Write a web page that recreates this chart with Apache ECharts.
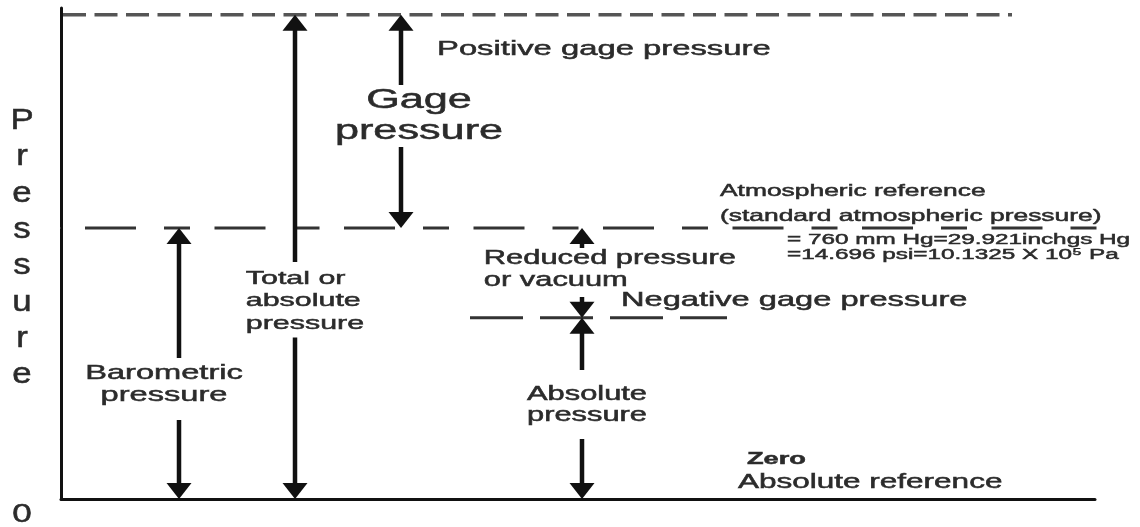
<!DOCTYPE html>
<html>
<head>
<meta charset="utf-8">
<title>Pressure</title>
<script src="https://cdn.jsdelivr.net/npm/echarts@6/dist/echarts.min.js"></script>
<style>
  html, body { margin: 0; padding: 0; background: #fff; }
  #chart { width: 1140px; height: 527px; }
</style>
</head>
<body>
<div id="chart"></div>
<script>
// pressure levels on the y scale (0 = absolute zero)
const levelNames = ['Zero', 'Negative gage', 'Atmospheric', 'Positive gage'];
const levelValues = [0, 36.9, 55.2, 98.6];

// double headed arrows, from one level to another, x = place on the diagram
const arrowNames = ['Barometric pressure', 'Total or absolute pressure', 'Gage pressure', 'Reduced pressure or vacuum', 'Absolute pressure'];
const arrowX = [118, 234, 340, 521, 521];
const arrowFrom = [0, 0, 2, 1, 0];
const arrowTo = [2, 3, 3, 2, 1];

// texts of the diagram
const labelTexts = [
  'Barometric\npressure',
  'Total or\nabsolute\npressure',
  'Gage\npressure',
  'Reduced pressure\nor vacuum',
  'Absolute\npressure',
  'Positive gage pressure',
  'Negative gage pressure',
  'Atmospheric reference\n(standard atmospheric pressure)',
  '= 760 mm Hg=29.921inchgs Hg\n=14.696 psi=10.1325 X 10\u2075 Pa',
  'Zero',
  'Absolute reference',
  'P\nr\ne\ns\ns\nu\nr\ne',
  '0'
];

// where each text sits (same order as labelTexts)
const labelLayout = [
  {u: 103, v: 28.7, align: 'center', va: 'top', fs: 20.4, lh: 21.5, sx: 1.6, pad: [5, 4, 14, 4], bg: true},
  {u: 180, v: 48.25, align: 'left', va: 'top', fs: 19, lh: 22.5, sx: 1.6, pad: [5, 3, 3, 3], bg: true},
  {u: 358, v: 84.3, align: 'center', va: 'top', fs: 27, lh: 31, sx: 1.6, pad: [0, 4, 0, 4], bg: true},
  {u: 418, v: 51.1, align: 'left', va: 'top', fs: 19.3, lh: 22, sx: 1.6, pad: [0, 3, 5, 3], bg: true},
  {u: 526, v: 26.27, align: 'center', va: 'top', fs: 19.3, lh: 21, sx: 1.6, pad: [14, 4, 13, 4], bg: true},
  {u: 376, v: 91.5, align: 'left', va: 'middle', fs: 20.5, sx: 1.6},
  {u: 560, v: 40.5, align: 'left', va: 'middle', fs: 20.4, sx: 1.6},
  {u: 659, v: 60.1, align: 'left', va: 'middle', fs: 16.5, lh: 25, sx: 1.6},
  {u: 726, v: 51.3, align: 'left', va: 'middle', fs: 15.2, lh: 15.5, sx: 1.6},
  {u: 686, v: 8.15, align: 'left', va: 'middle', fs: 17, sx: 1.6, bold: true},
  {u: 677, v: 3.26, align: 'left', va: 'middle', fs: 19.7, sx: 1.6},
  {u: -39, v: 51.1, align: 'center', va: 'middle', fs: 29, lh: 36.3, sx: 1.2},
  {u: -39, v: -3.2, align: 'center', va: 'middle', fs: 26, sx: 1.35}
];

const FONT = '"Liberation Sans", Arial, sans-serif';
const TEXT_COLOR = '#2b2b2b';

function levelLine(name, from, to, value, dash, color, width) {
  return {
    name: name,
    type: 'line',
    data: [[from, value], [to, value]],
    symbol: 'none',
    clip: false,
    silent: true,
    lineStyle: {color: color, width: width, type: dash, cap: 'butt'},
    z: 2
  };
}

let chart = echarts.init(document.getElementById('chart'));

chart.setOption({
  animation: false,
  backgroundColor: '#fff',
  grid: {left: 61, right: 45, top: 8, bottom: 28},
  xAxis: {
    type: 'value', min: 0, max: 1034,
    axisLine: {show: true, lineStyle: {color: '#111', width: 3}},
    axisTick: {show: false}, axisLabel: {show: false}, splitLine: {show: false}
  },
  yAxis: {
    type: 'value', min: 0, max: 100,
    axisLine: {show: true, lineStyle: {color: '#111', width: 3}},
    axisTick: {show: false}, axisLabel: {show: false}, splitLine: {show: false}
  },
  series: [
    levelLine(levelNames[3], 2, 951, levelValues[3], [23, 8.5], '#555', 3.5),
    levelLine(levelNames[2], 24, 1074, levelValues[2], [51, 28, 26, 24.5], '#333', 3),
    levelLine(levelNames[2] + ' tick', -11, 0, levelValues[2], 'solid', '#333', 2),
    levelLine(levelNames[1], 409, 666, levelValues[1], [53, 17], '#333', 3),
    {
      name: 'arrows',
      type: 'custom',
      clip: false,
      silent: true,
      z: 3,
      data: arrowX.map((x, i) => ({name: arrowNames[i], value: [x, levelValues[arrowFrom[i]], levelValues[arrowTo[i]]]})),
      encode: {x: 0, y: [1, 2]},
      renderItem: function (params, api) {
        let p1 = api.coord([api.value(0), api.value(1)]);
        let p2 = api.coord([api.value(0), api.value(2)]);
        let x = p1[0], h = 16, w = 25;
        return {
          type: 'group',
          children: [
            {type: 'line', shape: {x1: x, y1: p1[1] - h + 2, x2: x, y2: p2[1] + h - 2},
             style: {stroke: '#111', lineWidth: 4.5}},
            {type: 'polygon', shape: {points: [[x, p1[1]], [x - w / 2, p1[1] - h], [x + w / 2, p1[1] - h]]},
             style: {fill: '#111'}},
            {type: 'polygon', shape: {points: [[x, p2[1]], [x - w / 2, p2[1] + h], [x + w / 2, p2[1] + h]]},
             style: {fill: '#111'}}
          ]
        };
      }
    },
    {
      name: 'texts',
      type: 'custom',
      clip: false,
      silent: true,
      z: 5,
      data: labelLayout.map((l, i) => [l.u, l.v, i]),
      encode: {x: 0, y: 1},
      renderItem: function (params, api) {
        let i = api.value(2);
        let l = labelLayout[i];
        let pt = api.coord([api.value(0), api.value(1)]);
        return {
          type: 'text',
          x: pt[0],
          y: pt[1],
          scaleX: l.sx,
          style: {
            text: labelTexts[i],
            fill: TEXT_COLOR,
            stroke: TEXT_COLOR,
            lineWidth: 0.5,
            fontSize: l.fs,
            fontFamily: FONT,
            fontWeight: l.bold ? 'bold' : 'normal',
            align: l.align,
            verticalAlign: l.va,
            lineHeight: l.lh || Math.round(l.fs * 1.2),
            backgroundColor: l.bg ? '#fff' : null,
            padding: l.pad || 0
          }
        };
      }
    }
  ]
});
</script>
</body>
</html>
